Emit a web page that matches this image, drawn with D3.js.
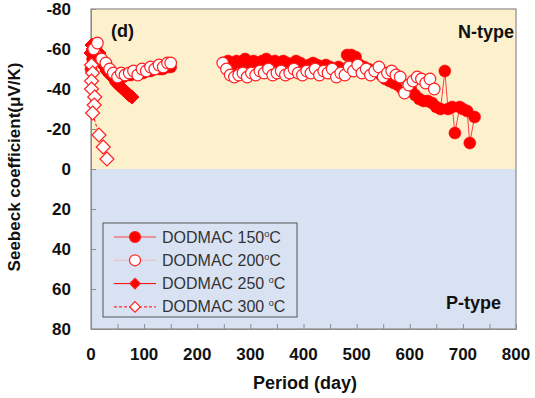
<!DOCTYPE html>
<html>
<head>
<meta charset="utf-8">
<script src="https://cdn.jsdelivr.net/npm/d3@7"></script>
<style>
  body { margin: 0; background: #fff; }
  text { font-family: "Liberation Sans", Arial, sans-serif; }
</style>
</head>
<body>
<script>
// DODMAC 150 C - filled circles
const days150 = [0, 3, 6, 9, 12, 15, 20, 25, 30, 38, 45, 52, 60, 68, 75, 82, 90, 98, 105, 112, 120, 128, 135, 142, 150,
  250, 258, 266, 274, 282, 290, 298, 306, 314, 322, 330, 338, 346, 354, 362, 370, 378, 386, 394, 402, 410, 418, 426, 434,
  442, 450, 458, 466, 474, 482, 490, 498, 506, 514, 522, 530, 538, 546, 554, 562, 570, 578, 586, 594, 602, 610, 618, 626,
  634, 642, 650, 658, 666, 672, 680, 685, 694, 700, 708, 713, 722];
const vals150 = [-50, -55, -58, -60, -57, -56, -54, -52, -50, -48, -47, -47, -46, -47, -47, -48, -48, -48, -49, -49, -50, -50, -50, -51, -51,
  -53, -54, -52, -54, -53, -55, -53, -54, -52, -54, -55, -53, -54, -52, -54, -53, -52, -54, -53, -51, -52, -53, -52, -51,
  -52, -51, -50, -51, -50, -57, -57, -56, -52, -51, -50, -49, -50, -47, -45, -44, -43, -42, -40, -41, -40, -37, -35, -34,
  -34, -33, -31, -30, -49, -30, -31, -18, -31, -30, -29, -13, -26];

// DODMAC 200 C - open circles
const days200 = [5, 12, 20, 28, 35, 42, 50, 57, 64, 72, 80, 88, 96, 104, 112, 120, 128, 136, 144, 150];
const vals200 = [-60, -63, -55, -53, -50, -48, -46, -48, -47, -48, -49, -47, -50, -49, -51, -50, -52, -51, -53, -53];
const days200b = [248, 255, 262, 270, 278, 286, 294, 302, 310, 318, 326, 334, 342, 350, 358, 366, 374, 382, 390, 398, 406,
  414, 422, 430, 438, 446, 454, 462, 470, 478, 486, 494, 502, 510, 518, 526, 534, 542, 550, 558, 566, 574, 582, 590, 598,
  606, 614, 622, 630, 638, 646];
const vals200b = [-53, -50, -47, -46, -47, -48, -46, -48, -47, -49, -48, -50, -47, -48, -49, -47, -48, -50, -48, -47, -49,
  -48, -50, -47, -49, -48, -50, -46, -48, -47, -51, -49, -52, -48, -50, -47, -49, -51, -46, -48, -49, -47, -46, -38, -42,
  -44, -46, -45, -43, -45, -40];

// DODMAC 250 C - filled diamonds
const days250 = [0, 2, 4, 6, 8, 10, 12, 15, 18, 22, 26, 30, 33, 36, 40, 44, 48, 52, 56, 60, 64, 68, 72, 77];
const vals250 = [-58, -62, -60, -56, -61, -57, -55, -58, -54, -53, -51, -49, -48, -47, -46, -45, -43, -42, -41, -40, -39, -38, -37, -36];

// DODMAC 300 C - open diamonds
const days300 = [1, 3, 1, 1, 7, 6, 3, 15, 23, 30];
const vals300 = [-52, -48, -44, -40, -36, -32, -28, -17, -11, -5];

const xTicks = [0, 100, 200, 300, 400, 500, 600, 700, 800];
const yTicks = [-80, -60, -40, -20, 0, 20, 40, 60, 80];
const legendLabels = [["DODMAC 150", "C"], ["DODMAC 200", "C"], ["DODMAC 250 ", "C"], ["DODMAC 300 ", "C"]];

const width = 535, height = 398;
const margin = { top: 9, right: 19, bottom: 69, left: 91 };

const svg = d3.select("body").append("svg")
  .attr("width", width)
  .attr("height", height);

const x = d3.scaleLinear().domain([0, 800]).range([margin.left, width - margin.right]);
const y = d3.scaleLinear().domain([-80, 80]).range([margin.top, height - margin.bottom]);

// background halves
svg.append("rect")
  .attr("x", x(0)).attr("y", y(-80))
  .attr("width", x(800) - x(0)).attr("height", y(0) - y(-80))
  .attr("fill", "#fdf0cc");
svg.append("rect")
  .attr("x", x(0)).attr("y", y(0))
  .attr("width", x(800) - x(0)).attr("height", y(80) - y(0))
  .attr("fill", "#d9e2f3");

// frame
svg.append("rect")
  .attr("x", x(0)).attr("y", y(-80))
  .attr("width", x(800) - x(0)).attr("height", y(80) - y(-80))
  .attr("fill", "none")
  .attr("stroke", "#8c8c8c")
  .attr("stroke-width", 1.2);

// axes with inward ticks
const xAxis = svg.append("g")
  .attr("transform", `translate(0,${y(80)})`)
  .call(d3.axisBottom(x).tickValues(d3.range(0, 801, 50)).tickSize(-5).tickFormat(""));
xAxis.select(".domain").attr("stroke", "#8c8c8c");
xAxis.selectAll(".tick line").attr("stroke", "#8c8c8c");

const yAxis = svg.append("g")
  .attr("transform", `translate(${x(0)},0)`)
  .call(d3.axisLeft(y).tickValues(yTicks).tickSize(-5).tickFormat(""));
yAxis.select(".domain").attr("stroke", "#8c8c8c");
yAxis.selectAll(".tick line").attr("stroke", "#8c8c8c");

svg.append("g").selectAll("text")
  .data(xTicks)
  .join("text")
  .attr("x", d => x(d))
  .attr("y", 360)
  .attr("text-anchor", "middle")
  .attr("font-size", 17)
  .attr("font-weight", "bold")
  .attr("fill", "#111")
  .text(d => d);

svg.append("g").selectAll("text")
  .data(yTicks)
  .join("text")
  .attr("x", 71)
  .attr("y", d => y(d) + 6)
  .attr("text-anchor", "end")
  .attr("font-size", 17)
  .attr("font-weight", "bold")
  .attr("fill", "#111")
  .text(d => d);

svg.append("text")
  .attr("transform", `translate(20,167) rotate(-90)`)
  .attr("text-anchor", "middle")
  .attr("font-size", 17)
  .attr("font-weight", "bold")
  .attr("fill", "#111")
  .text("Seebeck coefficient(\u03bcV/K)");

svg.append("text")
  .attr("x", 305)
  .attr("y", 389)
  .attr("text-anchor", "middle")
  .attr("font-size", 18)
  .attr("font-weight", "bold")
  .attr("fill", "#111")
  .text("Period (day)");

// annotations
svg.append("text").attr("x", 111).attr("y", 37)
  .attr("font-size", 18).attr("font-weight", "bold").attr("fill", "#111").text("(d)");
svg.append("text").attr("x", 514).attr("y", 38).attr("text-anchor", "end")
  .attr("font-size", 18).attr("font-weight", "bold").attr("fill", "#111").text("N-type");
svg.append("text").attr("x", 501).attr("y", 309).attr("text-anchor", "end")
  .attr("font-size", 18).attr("font-weight", "bold").attr("fill", "#111").text("P-type");

const line = d3.line().x(d => x(d[0])).y(d => y(d[1]));
const zip = (a, b) => a.map((d, i) => [d, b[i]]);

const s150 = zip(days150, vals150);
const s200a = zip(days200, vals200);
const s200b = zip(days200b, vals200b);
const s250 = zip(days250, vals250);
const s300 = zip(days300, vals300);

const diamond = d3.symbol().type(d3.symbolDiamond2).size(125);

// 150 C
svg.append("path").datum(s150.slice(0, 25)).attr("d", line)
  .attr("fill", "none").attr("stroke", "#ff4040").attr("stroke-width", 1);
svg.append("path").datum(s150.slice(25)).attr("d", line)
  .attr("fill", "none").attr("stroke", "#ff4040").attr("stroke-width", 1);
svg.append("g").selectAll("circle").data(s150).join("circle")
  .attr("cx", d => x(d[0])).attr("cy", d => y(d[1])).attr("r", 6)
  .attr("fill", "#ff0000").attr("stroke", "#ff0000").attr("stroke-width", 0.5);

// 250 C
svg.append("path").datum(s250).attr("d", line)
  .attr("fill", "none").attr("stroke", "#ff0000").attr("stroke-width", 1);
svg.append("g").selectAll("path").data(s250).join("path")
  .attr("transform", d => `translate(${x(d[0])},${y(d[1])})`)
  .attr("d", diamond)
  .attr("fill", "#ff0000").attr("stroke", "#ff0000");

// 200 C
[s200a, s200b].forEach(s => {
  svg.append("path").datum(s).attr("d", line)
    .attr("fill", "none").attr("stroke", "#f2b8b8").attr("stroke-width", 1);
  svg.append("g").selectAll("circle").data(s).join("circle")
    .attr("cx", d => x(d[0])).attr("cy", d => y(d[1])).attr("r", 5.8)
    .attr("fill", "#fff").attr("stroke", "#ff2020").attr("stroke-width", 1.2);
});

// 300 C
svg.append("path").datum(s300).attr("d", line)
  .attr("fill", "none").attr("stroke", "#ff0000").attr("stroke-width", 1)
  .attr("stroke-dasharray", "3,2");
svg.append("g").selectAll("path").data(s300).join("path")
  .attr("transform", d => `translate(${x(d[0])},${y(d[1])})`)
  .attr("d", diamond)
  .attr("fill", "#fff").attr("stroke", "#ff2020").attr("stroke-width", 1.2);

// legend
const legend = svg.append("g").attr("transform", "translate(103,223)");
legend.append("rect")
  .attr("width", 194).attr("height", 94)
  .attr("fill", "#d9e2f3").attr("stroke", "#555").attr("stroke-width", 1);

const legendStyles = [
  { stroke: "#ff4040", dash: null, shape: "circle", fill: "#ff0000" },
  { stroke: "#f2b8b8", dash: null, shape: "circle", fill: "#fff" },
  { stroke: "#ff0000", dash: null, shape: "diamond", fill: "#ff0000" },
  { stroke: "#ff0000", dash: "3,2", shape: "diamond", fill: "#fff" }
];

legendLabels.forEach((lab, i) => {
  const st = legendStyles[i];
  const ly = 14 + i * 23.3;
  legend.append("line")
    .attr("x1", 11).attr("x2", 53).attr("y1", ly).attr("y2", ly)
    .attr("stroke", st.stroke).attr("stroke-width", 1)
    .attr("stroke-dasharray", st.dash);
  if (st.shape === "circle") {
    legend.append("circle").attr("cx", 32).attr("cy", ly).attr("r", 5.5)
      .attr("fill", st.fill).attr("stroke", "#ff2020").attr("stroke-width", 1.2);
  } else {
    legend.append("path").attr("transform", `translate(32,${ly})`)
      .attr("d", d3.symbol().type(d3.symbolDiamond2).size(70))
      .attr("fill", st.fill).attr("stroke", "#ff2020").attr("stroke-width", 1.2);
  }
  const t = legend.append("text")
    .attr("x", 59).attr("y", ly + 5.5)
    .attr("font-size", 16).attr("fill", "#333");
  t.append("tspan").text(lab[0]);
  t.append("tspan").attr("font-size", 9).attr("dy", -6).text("o");
  t.append("tspan").attr("dy", 6).text(lab[1]);
});
</script>
</body>
</html>
